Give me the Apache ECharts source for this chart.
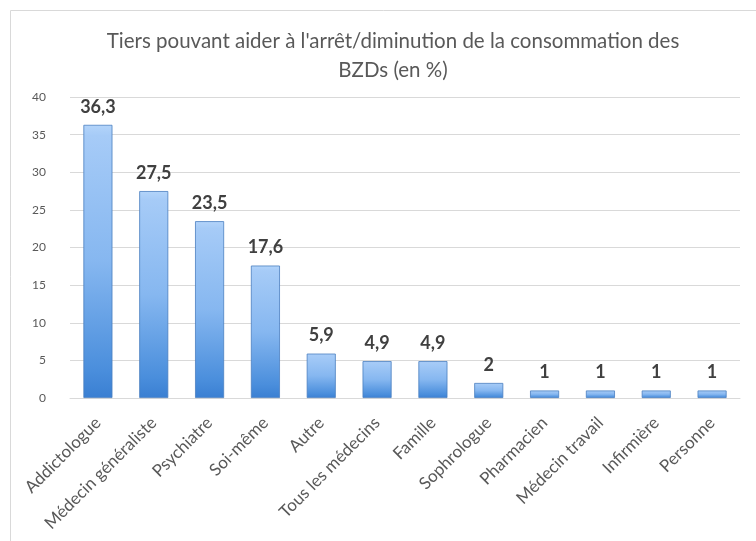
<!DOCTYPE html>
<html>
<head>
<meta charset="utf-8">
<script src="https://cdn.jsdelivr.net/npm/echarts@6/dist/echarts.min.js"></script>
<style>
  html, body { margin: 0; padding: 0; background: #fff; }
  #chart { width: 756px; height: 541px; }
</style>
</head>
<body>
<div id="chart"></div>
<script>
// --- Data ---
const categories = ['Addictologue', 'Médecin généraliste', 'Psychiatre', 'Soi-même', 'Autre',
  'Tous les médecins', 'Famille', 'Sophrologue', 'Pharmacien', 'Médecin travail', 'Infirmière', 'Personne'];
const values = [36.3, 27.5, 23.5, 17.6, 5.9, 4.9, 4.9, 2, 1, 1, 1, 1];
const yTicks = [0, 5, 10, 15, 20, 25, 30, 35, 40];
const titleText = "Tiers pouvant aider à l'arrêt/diminution de la consommation des\nBZDs (en %)";

const FONT = 'Lato';
const chart = echarts.init(document.getElementById('chart'), null, { renderer: 'canvas' });

const barFill = new echarts.graphic.LinearGradient(0, 0, 0, 1, [
  { offset: 0, color: '#b3d4fa' },
  { offset: 0.04, color: '#a6cbf7' },
  { offset: 0.5, color: '#86b7f0' },
  { offset: 0.9, color: '#4a8edc' },
  { offset: 1, color: '#3a7fd2' }
]);

chart.setOption({
  animation: false,
  graphic: [{
    type: 'rect',
    shape: { x: 10.5, y: 10.5, width: 800, height: 600 },
    style: { fill: 'none', stroke: '#d9d9d9', lineWidth: 1 },
    silent: true
  }],
  title: {
    text: titleText,
    left: 388,
    top: 22,
    textAlign: 'center',
    textStyle: {
      fontFamily: FONT,
      fontSize: 20.5,
      fontWeight: 'normal',
      color: '#595959',
      lineHeight: 29
    }
  },
  grid: { left: 70, right: 16, top: 97, bottom: 143 },
  xAxis: {
    type: 'category',
    data: categories,
    axisTick: { show: false },
    axisLine: { lineStyle: { color: '#d9d9d9' } },
    axisLabel: {
      rotate: 45,
      interval: 0,
      margin: 22,
      fontFamily: FONT,
      fontSize: 17,
      color: '#595959'
    }
  },
  yAxis: {
    type: 'value',
    min: yTicks[0],
    max: yTicks[yTicks.length - 1],
    interval: 5,
    axisLine: { show: false },
    axisTick: { show: false },
    splitLine: { lineStyle: { color: '#d9d9d9' } },
    axisLabel: {
      margin: 24,
      fontFamily: FONT,
      fontSize: 12,
      color: '#595959'
    }
  },
  series: [{
    type: 'bar',
    data: values,
    barWidth: '52%',
    itemStyle: {
      color: barFill,
      borderColor: '#4a7fc0',
      borderWidth: 0.8
    },
    label: {
      show: true,
      position: 'top',
      distance: 9,
      formatter: p => String(p.value).replace('.', ','),
      fontFamily: FONT,
      fontSize: 18,
      fontWeight: 'bold',
      color: '#404040'
    }
  }]
});
</script>
</body>
</html>
